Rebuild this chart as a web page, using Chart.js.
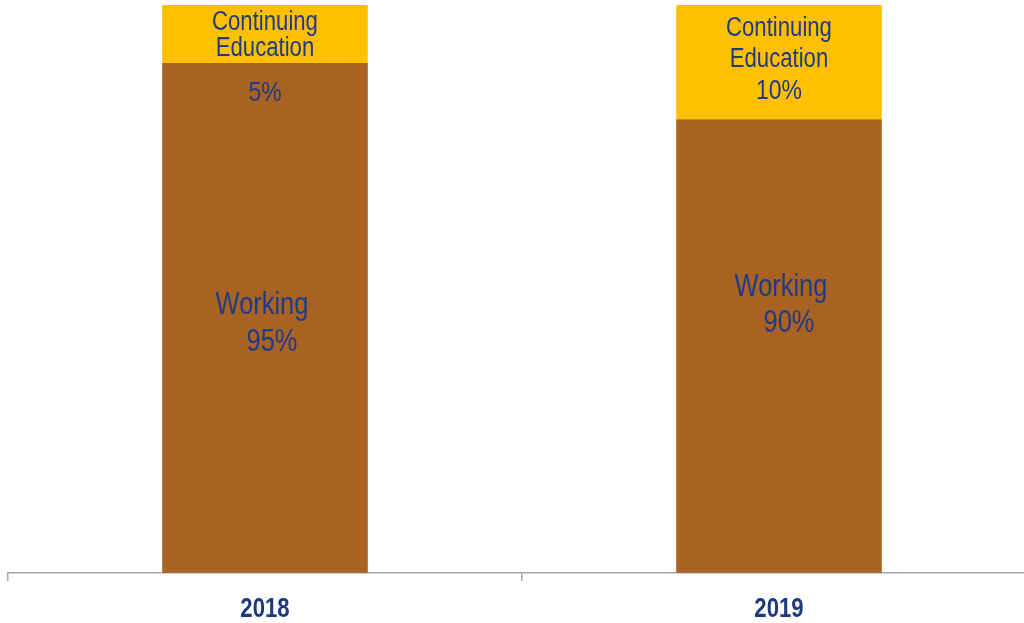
<!DOCTYPE html>
<html lang="en">
<head>
<meta charset="UTF-8">
<title>Working vs Continuing Education</title>
<script src="https://cdn.jsdelivr.net/npm/chart.js@4.4.1/dist/chart.umd.min.js"></script>
<style>
    html, body { margin:0; padding:0; background:#fff; overflow:hidden; }
    #wrap { width:1040px; height:623px; }
</style>
</head>
<body>
<div id="wrap"><canvas id="myChart"></canvas></div>
<script>
// data (bar heights), label texts kept separately
var years = ['2018', '2019'];
var working = [89.8, 79.9];
var continuing = [10.2, 20.1];
var workingText = ['95%', '90%'];
var continuingText = ['5%', '10%'];

var FONT = '"Liberation Sans", Arial, sans-serif';
var TXT = '#1F3A86';
var NARROW = 0.82; // no narrow font installed, squeeze the text instead

// line layout per segment: [text, dx, dy, size] relative to segment centre
var f_lines = function(ds, i){
    if(ds == 1){
        if(i == 0) return [['Continuing',0,-11,27],['Education',0,15,27],[continuingText[i],0,59,28]];
        return [['Continuing',0,-34,27],['Education',0,-3,27],[continuingText[i],0,29,28]];
    }
    if(i == 0) return [['Working',-3,-13,31],[workingText[i],7,24,31]];
    return [['Working',2,-59,31],[workingText[i],10,-23,31]];
}

var f_text = function(c, txt, x, y){
    c.save();
    c.translate(x, y);
    c.scale(NARROW, 1);
    c.fillText(txt, 0, 0);
    c.restore();
}

var segLabels = {
    id: 'segLabels',
    afterDatasetsDraw: function(chart){
        var c = chart.ctx;
        c.save();
        c.fillStyle = TXT;
        c.textAlign = 'center';
        c.textBaseline = 'middle';
        chart.data.datasets.forEach(function(d, ds){
            chart.getDatasetMeta(ds).data.forEach(function(bar, i){
                var cy = (bar.y + bar.base) / 2;
                f_lines(ds, i).forEach(function(l){
                    c.font = l[3] + 'px ' + FONT;
                    f_text(c, l[0], bar.x + l[1], cy + l[2]);
                });
            });
        });
        // category labels, drawn here so they can be squeezed too
        var xs = chart.scales.x;
        c.fillStyle = '#1F3A78';
        c.font = 'bold 27px ' + FONT;
        years.forEach(function(y, i){
            f_text(c, y, xs.getPixelForTick(i), xs.top + 37);
        });
        c.restore();
    }
};

const ctx = document.getElementById('myChart').getContext('2d');
const myChart = new Chart(ctx, {
    type: 'bar',
    data: {
        labels: years,
        datasets: [{
            label: 'Working',
            data: working,
            backgroundColor: '#A86322',
            barPercentage: 0.8,
            categoryPercentage: 0.5
        }, {
            label: 'Continuing Education',
            data: continuing,
            backgroundColor: '#FFC000',
            barPercentage: 0.8,
            categoryPercentage: 0.5
        }]
    },
    options: {
        responsive: true,
        maintainAspectRatio: false,
        animation: false,
        layout: { padding: { top: 5, left: 8, right: 4, bottom: 0 } },
        plugins: { legend: { display: false }, tooltip: { enabled: false } },
        scales: {
            x: {
                stacked: true,
                afterFit: function(axis){ axis.height = 50; },
                grid: { offset: true, drawOnChartArea: false, color: '#A6A6A6', tickLength: 8, lineWidth: 1.5 },
                border: { color: '#A6A6A6', width: 1.5 },
                ticks: { color: 'rgba(0,0,0,0)', padding: 14, font: { family: FONT, size: 25, weight: 'bold' } }
            },
            y: {
                stacked: true,
                display: false,
                min: 0,
                max: 100
            }
        }
    },
    plugins: [segLabels]
});
</script>
</body>
</html>
